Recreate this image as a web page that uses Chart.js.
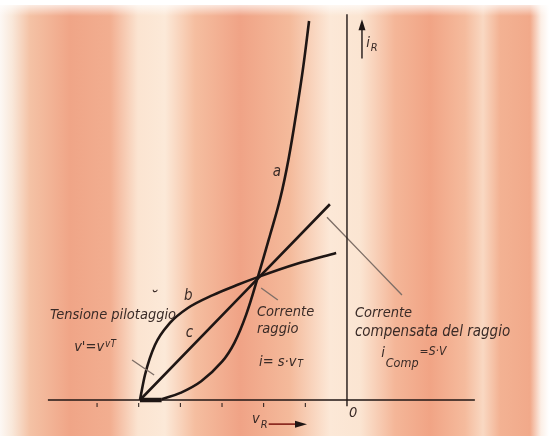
<!DOCTYPE html>
<html>
<head>
<meta charset="utf-8">
<script src="https://cdn.jsdelivr.net/npm/chart.js@4.4.1/dist/chart.umd.min.js"></script>
<style>
  html, body { margin: 0; padding: 0; background: #fff; }
  #wrap { width: 549px; height: 438px; }
</style>
</head>
<body>
<div id="wrap"><canvas id="chart"></canvas></div>
<script>
// Beam current characteristics, one unit = one tick on the v_R axis
// curve a: beam current i = s·v_T
const aV = [-4.45, -4.0, -3.5, -3.0, -2.7, -2.42, -2.14, -1.85, -1.6, -1.4, -1.2, -1.05, -0.91];
const aI = [0.02, 0.17, 0.45, 0.92, 1.38, 2.05, 2.95, 3.95, 4.85, 5.8, 7.0, 8.0, 9.1];
// curve b: drive voltage v' = v^(vT)
const bV = [-4.97, -4.85, -4.61, -4.25, -3.82, -3.22, -2.64, -2.14, -1.2, -0.26];
const bI = [0, 0.6, 1.32, 1.85, 2.21, 2.52, 2.76, 2.95, 3.27, 3.53];
// curve c: compensated beam current i_Comp = S·V
const cV = [-4.97, -0.41];
const cI = [0, 4.7];
// cut-off stretch drawn heavy on the axis
const baseV = [-4.97, -4.45];
const baseI = [0, 0];

const xTicks = [-6, -5, -4, -3, -2, -1];
const xAxisSpan = [-7.18, 3.07];
const yAxisSpan = [-0.15, 9.26];

// pointer lines from the captions to their curves
const leaderPilot = [[-5.16, 0.96], [-4.63, 0.60]];
const leaderBeam = [[-2.06, 2.69], [-1.66, 2.40]];
const leaderComp = [[-0.48, 4.39], [1.32, 2.52]];

const pts = (xs, ys) => xs.map((x, i) => ({ x: x, y: ys[i] }));
const seg = (arr) => arr.map(p => ({ x: p[0], y: p[1] }));

const INK = '#1f1614';
const TEXT = '#3a2b27';
const GREY = '#7f6f67';
const FONT = "'Liberation Sans Narrow', 'DejaVu Sans Condensed', sans-serif";

// captions: position in axis units, parts drawn left to right
const notes = [
  { x: -1.78, y: 5.47, parts: [{ t: 'a', s: 15 }] },
  { x: -3.91, y: 2.50, parts: [{ t: 'b', s: 15 }] },
  { x: -3.87, y: 1.61, parts: [{ t: 'c', s: 15 }] },
  { x: -4.74, y: 2.42, parts: [{ t: '˘', s: 18 }] },
  { x: -7.13, y: 2.04, parts: [{ t: 'Tensione pilotaggio', s: 14.5 }] },
  { x: -6.55, y: 1.27, parts: [{ t: "v'=v", s: 14.5 }, { t: 'vT', s: 10, dy: -3 }] },
  { x: -2.16, y: 2.11, parts: [{ t: 'Corrente', s: 14.5 }] },
  { x: -2.16, y: 1.70, parts: [{ t: 'raggio', s: 14.5 }] },
  { x: -2.11, y: 0.91, parts: [{ t: 'i= s·v', s: 14.5 }, { t: 'T', s: 10, dy: 2 }] },
  { x: 0.19, y: 2.09, parts: [{ t: 'Corrente', s: 14.5 }] },
  { x: 0.19, y: 1.63, parts: [{ t: 'compensata del raggio', s: 15 }] },
  { x: 0.82, y: 1.13, parts: [{ t: 'i', s: 14.5 }, { t: 'Comp', s: 12.5, dy: 11 }, { t: '=S·V', s: 12, dy: -1 }] },
  { x: 0.05, y: -0.31, parts: [{ t: '0', s: 14.5 }] },
  { x: -2.28, y: -0.46, parts: [{ t: 'v', s: 14.5 }, { t: 'R', s: 11, dy: 6 }] },
  { x: 0.46, y: 8.57, parts: [{ t: 'i', s: 14.5 }, { t: 'R', s: 11, dy: 5 }] }
];

// printed paper: vertical salmon bands
const paper = {
  id: 'paper',
  beforeDraw(chart) {
    const ctx = chart.ctx, w = chart.width, h = chart.height;
    ctx.save();
    ctx.fillStyle = '#ffffff';
    ctx.fillRect(0, 0, w, h);
    const g = ctx.createLinearGradient(0, 0, w, 0);
    const stops = [
      [0, '#fdf8f4'], [12, '#f9e8da'], [30, '#f4c2a5'], [70, '#f0a587'], [110, '#f2ae90'],
      [138, '#fbe4d1'], [165, '#fce9d8'], [195, '#f5bea0'], [240, '#f0a386'], [290, '#f4ba9b'],
      [330, '#fce8d7'], [360, '#fbe5d2'], [395, '#f4b698'], [430, '#f1a485'], [465, '#f5bb9d'],
      [483, '#f9d8c2'], [500, '#f3b293'], [530, '#f1a98a'], [541, '#fcefe6'], [549, '#ffffff']
    ];
    stops.forEach(s => g.addColorStop(s[0] / w, s[1]));
    ctx.fillStyle = g;
    ctx.fillRect(0, 5, w, h - 7);
    const top = ctx.createLinearGradient(0, 0, 0, 16);
    top.addColorStop(0, 'rgba(255,255,255,1)');
    top.addColorStop(1, 'rgba(255,255,255,0)');
    ctx.fillStyle = top;
    ctx.fillRect(0, 0, w, 16);
    ctx.restore();
  }
};

function arrowHead(ctx, x, y, dx, dy, len, half) {
  const px = -dy, py = dx;
  ctx.beginPath();
  ctx.moveTo(x, y);
  ctx.lineTo(x - dx * len + px * half, y - dy * len + py * half);
  ctx.lineTo(x - dx * len - px * half, y - dy * len - py * half);
  ctx.closePath();
  ctx.fill();
}

// tick marks, axis arrows and captions
const extras = {
  id: 'extras',
  afterDatasetsDraw(chart) {
    const ctx = chart.ctx;
    const X = v => chart.scales.x.getPixelForValue(v);
    const Y = v => chart.scales.y.getPixelForValue(v);
    ctx.save();

    ctx.strokeStyle = INK;
    ctx.lineWidth = 1;
    xTicks.forEach(t => {
      ctx.beginPath();
      ctx.moveTo(X(t), Y(0) + 3);
      ctx.lineTo(X(t), Y(0) + 7);
      ctx.stroke();
    });

    // i_R arrow
    ctx.lineWidth = 1.4;
    ctx.beginPath();
    ctx.moveTo(X(0.36), Y(8.2));
    ctx.lineTo(X(0.36), Y(9.0));
    ctx.stroke();
    ctx.fillStyle = INK;
    arrowHead(ctx, X(0.36), Y(9.14), 0, -1, 11, 3.5);

    // v_R arrow
    ctx.strokeStyle = '#8c2c22';
    ctx.lineWidth = 1.6;
    ctx.beginPath();
    ctx.moveTo(X(-1.88), Y(-0.58));
    ctx.lineTo(X(-1.1), Y(-0.58));
    ctx.stroke();
    arrowHead(ctx, X(-0.96), Y(-0.58), 1, 0, 12, 3.5);

    ctx.fillStyle = TEXT;
    ctx.textBaseline = 'middle';
    ctx.textAlign = 'left';
    notes.forEach(n => {
      let x = X(n.x);
      const y = Y(n.y);
      n.parts.forEach(p => {
        ctx.font = 'italic ' + p.s + 'px ' + FONT;
        ctx.fillText(p.t, x, y + (p.dy || 0));
        x += ctx.measureText(p.t).width + 1;
      });
    });
    ctx.restore();
  }
};

const line = (data, width, color, mode) => ({
  data: data,
  showLine: true,
  borderColor: color,
  borderWidth: width,
  pointRadius: 0,
  fill: false,
  tension: 0.4,
  cubicInterpolationMode: mode || 'default'
});

new Chart(document.getElementById('chart'), {
  type: 'scatter',
  data: {
    datasets: [
      line([{ x: xAxisSpan[0], y: 0 }, { x: xAxisSpan[1], y: 0 }], 1.6, INK),
      line([{ x: 0, y: yAxisSpan[0] }, { x: 0, y: yAxisSpan[1] }], 1.4, INK),
      line(seg(leaderPilot), 1.4, GREY),
      line(seg(leaderBeam), 1.4, GREY),
      line(seg(leaderComp), 1.4, GREY),
      line(pts(aV, aI), 2.6, INK),
      line(pts(bV, bI), 2.6, INK, 'monotone'),
      line(pts(cV, cI), 2.6, INK),
      line(pts(baseV, baseI), 4.5, INK)
    ]
  },
  options: {
    responsive: true,
    maintainAspectRatio: false,
    animation: false,
    layout: { padding: 0 },
    plugins: { legend: { display: false }, tooltip: { enabled: false } },
    scales: {
      x: { type: 'linear', min: -8.33, max: 4.85, display: false },
      y: { type: 'linear', min: -0.912, max: 9.604, display: false }
    }
  },
  plugins: [paper, extras]
});
</script>
</body>
</html>
